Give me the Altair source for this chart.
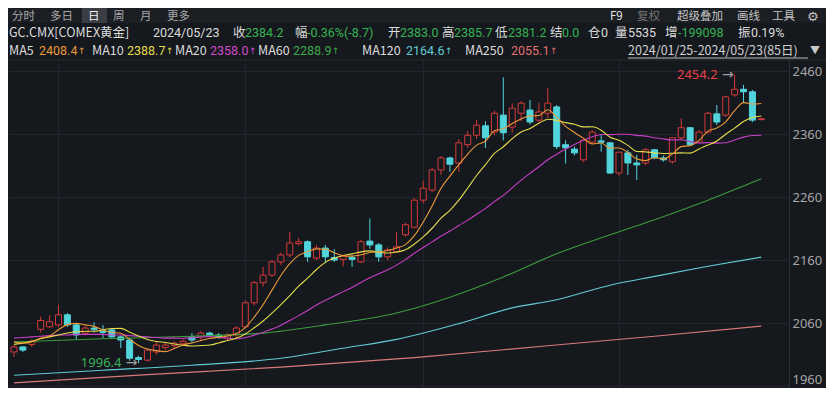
import altair as alt
import pandas as pd

# ---------------- data ----------------
opens = [2014, 2022, 2026, 2050, 2054, 2057, 2073, 2057, 2044, 2052,
         2047, 2049, 2038, 2033, 2005, 2001, 2014, 2021, 2024, 2027,
         2038, 2038, 2044, 2041, 2036, 2041, 2054, 2092, 2124, 2136,
         2157, 2168, 2186, 2189, 2163, 2179, 2164, 2161, 2164, 2157,
         2190, 2184, 2165, 2173, 2200, 2212, 2255, 2271, 2303, 2322,
         2314, 2343, 2358, 2373, 2363, 2390, 2371, 2393, 2398, 2382,
         2393, 2403, 2343, 2336, 2319, 2347, 2349, 2346, 2298, 2330,
         2314, 2314, 2335, 2322, 2316, 2354, 2370, 2347, 2363, 2392,
         2390, 2422, 2431, 2427, 2383.0]
highs = [2025, 2023, 2034, 2070, 2072, 2089, 2076, 2060, 2055, 2061,
         2057, 2052, 2040, 2036, 2008, 2019, 2030, 2028, 2031, 2034,
         2044, 2047, 2046, 2044, 2044, 2055, 2096, 2127, 2149, 2160,
         2172, 2205, 2195, 2191, 2184, 2184, 2177, 2168, 2167, 2192,
         2226, 2187, 2180, 2204, 2219, 2258, 2286, 2306, 2325, 2324,
         2352, 2365, 2382, 2380, 2397, 2450, 2409, 2412, 2414, 2409,
         2433, 2406, 2350, 2340, 2352, 2366, 2358, 2347, 2332, 2335,
         2327, 2338, 2336, 2326, 2354, 2385, 2371, 2366, 2395, 2406,
         2421, 2454.2, 2438, 2430, 2385.7]
lows = [2006, 2014, 2022, 2045, 2052, 2054, 2054, 2033, 2040, 2045,
        2036, 2035, 2020, 2000, 1996.4, 1999, 2010, 2017, 2020, 2024,
        2028, 2031, 2038, 2035, 2033, 2036, 2052, 2088, 2118, 2133,
        2152, 2164, 2183, 2157, 2160, 2155, 2157, 2150, 2149, 2155,
        2178, 2157, 2160, 2171, 2197, 2210, 2250, 2268, 2295, 2300,
        2300, 2338, 2352, 2338, 2358, 2350, 2362, 2380, 2375, 2378,
        2386, 2336, 2313, 2326, 2316, 2345, 2332, 2297, 2294, 2295,
        2287, 2310, 2320, 2316, 2313, 2350, 2342, 2345, 2361, 2374,
        2387, 2419, 2409, 2379, 2381.2]
closes = [2022, 2017, 2031, 2064, 2062, 2073, 2057, 2041, 2052, 2050,
          2045, 2038, 2033, 2004, 2002, 2017, 2025, 2025, 2028, 2031,
          2033, 2044, 2041, 2038, 2041, 2052, 2092, 2124, 2136, 2157,
          2168, 2187, 2189, 2165, 2179, 2165, 2160, 2166, 2161, 2189,
          2184, 2165, 2176, 2181, 2216, 2255, 2274, 2303, 2322, 2312,
          2346, 2358, 2374, 2354, 2393, 2362, 2401, 2409, 2379, 2395,
          2409, 2340, 2338, 2330, 2350, 2363, 2347, 2298, 2331, 2314,
          2311, 2335, 2322, 2319, 2354, 2370, 2343, 2363, 2393, 2379,
          2419, 2431, 2427, 2382, 2384.2]

ma5 = [2030, 2028, 2030, 2036, 2039.2, 2049.4, 2057.4, 2059.4, 2057.0, 2054.6,
       2049.0, 2045.2, 2043.6, 2034.0, 2024.4, 2018.8, 2016.2, 2014.6, 2019.4, 2025.2,
       2028.4, 2032.2, 2035.4, 2037.4, 2039.4, 2043.2, 2052.8, 2069.4, 2089.0, 2112.2,
       2135.4, 2154.4, 2167.4, 2173.2, 2177.6, 2177.0, 2171.6, 2167.0, 2166.2, 2168.2,
       2172.0, 2173.0, 2175.0, 2179.0, 2184.4, 2198.6, 2220.4, 2245.8, 2274.0, 2293.2,
       2311.4, 2328.2, 2342.4, 2348.8, 2365.0, 2368.2, 2376.8, 2383.8, 2388.8, 2389.2,
       2398.6, 2386.4, 2372.2, 2362.4, 2353.4, 2344.2, 2345.6, 2337.6, 2337.8, 2330.6,
       2320.2, 2317.8, 2322.6, 2320.2, 2328.2, 2340.0, 2341.6, 2349.8, 2364.6, 2369.6,
       2379.4, 2397.0, 2409.8, 2407.6, 2408.4]
ma10 = [2026, 2028, 2031, 2035, 2038, 2041, 2044, 2046, 2047, 2046.9,
        2049.2, 2051.3, 2051.5, 2045.5, 2039.5, 2033.9, 2030.7, 2029.1, 2026.7, 2024.8,
        2023.6, 2024.2, 2025.0, 2028.4, 2032.3, 2035.8, 2042.5, 2052.4, 2063.2, 2075.8,
        2089.3, 2103.6, 2118.4, 2131.1, 2144.9, 2156.2, 2163.0, 2167.2, 2169.7, 2172.9,
        2174.5, 2172.3, 2171.0, 2172.6, 2176.3, 2185.3, 2196.7, 2210.4, 2226.5, 2238.8,
        2255.0, 2274.3, 2294.1, 2311.4, 2329.1, 2339.8, 2352.5, 2363.1, 2368.8, 2377.1,
        2383.4, 2381.6, 2378.0, 2375.6, 2371.3, 2371.4, 2366.0, 2354.9, 2350.1, 2342.0,
        2332.2, 2331.7, 2330.1, 2329.0, 2329.4, 2330.1, 2329.7, 2336.2, 2342.4, 2348.9,
        2359.7, 2369.3, 2379.8, 2386.1, 2388.7]
ma20 = [2036, 2037, 2038, 2039, 2040, 2041, 2041, 2042, 2042, 2042,
        2042, 2041, 2041, 2040, 2039, 2038, 2037, 2036, 2036, 2035.9,
        2036.4, 2037.8, 2038.3, 2037.0, 2035.9, 2034.9, 2036.6, 2040.8, 2045.0, 2050.3,
        2056.5, 2063.9, 2071.7, 2079.8, 2088.6, 2096.0, 2102.8, 2109.8, 2116.5, 2124.4,
        2131.9, 2138.0, 2144.7, 2151.9, 2160.6, 2170.8, 2179.9, 2188.8, 2198.1, 2205.9,
        2214.8, 2223.3, 2232.6, 2242.0, 2252.7, 2262.6, 2274.6, 2286.8, 2297.7, 2308.0,
        2319.2, 2328.0, 2336.1, 2343.5, 2350.2, 2355.6, 2359.3, 2359.0, 2359.5, 2359.6,
        2357.8, 2356.7, 2354.1, 2352.3, 2350.4, 2350.8, 2347.9, 2345.6, 2346.3, 2345.5,
        2346.0, 2350.5, 2355.0, 2357.6, 2358.0]
ma60_idx = [0, 10, 20, 28, 35, 43, 49, 55, 61, 67, 72, 78, 84]
ma60 = [2030, 2035, 2039, 2044, 2057, 2076, 2101, 2133, 2170, 2200, 2224, 2255, 2288.9]
ma120_idx = [0, 10, 20, 30, 37, 43, 50, 56, 61, 67, 72, 78, 84]
ma120 = [1977, 1985, 1993, 2004, 2020, 2034, 2059, 2084, 2097, 2120, 2134, 2150, 2164.6]
ma250_idx = [0, 15, 30, 45, 60, 72, 84]
ma250 = [1965, 1978, 1990, 2005, 2024, 2039, 2055.1]

y_ticks = [1960, 2060, 2160, 2260, 2360, 2460]
month_start_idx = [5, 26, 46, 68]

# ---------------- styling ----------------
BG = "#15181d"
GRID = "#22262c"
RED = "#d43a3a"
CYAN = "#52d4dc"
CJK = "Noto Sans CJK SC"
NUM = "Roboto"
W, H = 781, 380

xs = alt.Scale(domain=[-0.111, 86.55], nice=False, zero=False)
ys = alt.Scale(domain=[1956.83, 2560.0], nice=False, zero=False)
xa = alt.Axis(values=month_start_idx, grid=True, gridColor=GRID, labels=False,
              ticks=False, domain=False, title=None)
ya = alt.Axis(orient="right", values=y_ticks, grid=True, gridColor=GRID, domain=True,
              domainColor="#2b2f36", ticks=False, labelColor="#a6a6a6", labelFontSize=13,
              labelFont="Noto Sans", labelPadding=3, labelFlush=4, title=None, format="d")


def X(f="i"):
    return alt.X(f"{f}:Q", scale=xs, axis=xa)


def Y(f):
    return alt.Y(f"{f}:Q", scale=ys, axis=ya)


n = len(closes)
df = pd.DataFrame({"i": list(range(n)), "open": opens, "high": highs,
                   "low": lows, "close": closes})
up = "datum.close >= datum.open"

wicks = alt.Chart(df).mark_rule(strokeWidth=1).encode(
    x=X(), y=Y("low"), y2="high:Q",
    color=alt.condition(up, alt.value(RED), alt.value(CYAN)))
bodies = alt.Chart(df).mark_bar(size=6, strokeWidth=1).encode(
    x=X(), y=Y("open"), y2="close:Q",
    fill=alt.condition(up, alt.value(BG), alt.value(CYAN)),
    stroke=alt.condition(up, alt.value(RED), alt.value(CYAN)))

ma_df = pd.concat([
    pd.DataFrame({"i": ma250_idx, "v": ma250, "s": "MA250"}),
    pd.DataFrame({"i": ma120_idx, "v": ma120, "s": "MA120"}),
    pd.DataFrame({"i": ma60_idx, "v": ma60, "s": "MA60"}),
    pd.DataFrame({"i": list(range(n)), "v": ma20, "s": "MA20"}),
    pd.DataFrame({"i": list(range(n)), "v": ma10, "s": "MA10"}),
    pd.DataFrame({"i": list(range(n)), "v": ma5, "s": "MA5"}),
], ignore_index=True)
ma_names = ["MA5", "MA10", "MA20", "MA60", "MA120", "MA250"]
ma_colors = ["#eb9a3a", "#e4dc4c", "#c63fc6", "#3c9c3c", "#62cbd6", "#d97a7a"]
lines = alt.Chart(ma_df).mark_line(strokeWidth=1.1, interpolate="monotone").encode(
    x=X(), y=Y("v"),
    color=alt.Color("s:N", scale=alt.Scale(domain=ma_names, range=ma_colors), legend=None),
    detail="s:N")

hi_i = max(range(n), key=lambda k: highs[k])
lo_i = min(range(n), key=lambda k: lows[k])
ann_hi = pd.DataFrame({"i": [hi_i], "p": [highs[hi_i]], "t": [f"{highs[hi_i]:.1f}"]})
ann_lo = pd.DataFrame({"i": [lo_i], "p": [lows[lo_i]], "t": [f"{lows[lo_i]:.1f}"]})


def annot(d, color):
    t = alt.Chart(d).mark_text(align="right", baseline="middle", dx=-17, font="Noto Sans",
                               fontSize=13, color=color).encode(x=X(), y=Y("p"), text="t:N")
    a = alt.Chart(d).mark_text(text="→", align="right", baseline="middle", dx=-1,
                               font="DejaVu Sans", fontSize=14, color="#a0a0a0").encode(
        x=X(), y=Y("p"))
    return [t, a]


# ---------------- header ----------------
def box(x1, x2, y1, y2, color):
    return alt.Chart(alt.Data(values=[{}])).mark_rect(color=color).encode(
        x=alt.value(x1), x2=alt.value(x2), y=alt.value(y1), y2=alt.value(y2))


def hline(x1, x2, y, color):
    return alt.Chart(alt.Data(values=[{}])).mark_rule(color=color, strokeWidth=1).encode(
        x=alt.value(x1), x2=alt.value(x2), y=alt.value(y))


def txt(s, x, y, color, size=12.5, font=CJK):
    # x, y in reference-page pixels; chart origin is 8px in
    return alt.Chart(alt.Data(values=[{"s": s}])).mark_text(
        align="left", baseline="middle", font=font, fontSize=size, color=color).encode(
        x=alt.value(x - 8), y=alt.value(y - 8), text="s:N")


WHITE = "#dcdcdc"
GREEN = "#36b454"
GRAY = "#a9a9a9"

header = [
    box(0, 818, 0, 51, BG),
    box(0, 818, 0, 15, "#1b1e23"),
    box(74, 99, 0, 15, "#3a3d44"),
    hline(0, 818, 52, "#262a30"),
    hline(620, 800, 50, "#bdbdbd"),
]
row1 = 16.5
for s, x, c in [("分时", 12, GRAY), ("多日", 50, GRAY), ("日", 88, "#f0f0f0"),
                ("周", 113, GRAY), ("月", 140, GRAY), ("更多", 167, GRAY),
                ("F9", 610, "#e6e6e6"), ("复权", 637, "#767676"), ("超级叠加", 677, "#c4c4c4"),
                ("画线", 737, "#c4c4c4"), ("工具", 772, "#c4c4c4")]:
    header.append(txt(s, x, row1, c, size=11.5))
header.append(txt("⚙", 807, row1, "#c4c4c4", size=13, font="DejaVu Sans"))

row2 = 33
for s, x, c, f in [("GC.CMX[COMEX黄金]", 9, WHITE, CJK), ("2024/05/23", 153, WHITE, NUM),
                   ("收", 233, WHITE, CJK), ("2384.2", 245, GREEN, NUM),
                   ("幅", 295, WHITE, CJK), ("-0.36%(-8.7)", 307, GREEN, NUM),
                   ("开", 388, WHITE, CJK), ("2383.0", 400, GREEN, NUM),
                   ("高", 442, WHITE, CJK), ("2385.7", 454, GREEN, NUM),
                   ("低", 495, WHITE, CJK), ("2381.2", 508, GREEN, NUM),
                   ("结", 550, WHITE, CJK), ("0.0", 562, GREEN, NUM),
                   ("仓", 588, WHITE, CJK), ("0", 601, WHITE, NUM),
                   ("量", 615, WHITE, CJK), ("5535", 628, WHITE, NUM),
                   ("增", 665, WHITE, CJK), ("-199098", 678, GREEN, NUM),
                   ("振", 738, WHITE, CJK), ("0.19%", 751, WHITE, NUM)]:
    header.append(txt(s, x, row2, c, font=f))

row3 = 51
for s, x, c in [("MA5", 9, WHITE), ("MA10", 92, WHITE), ("MA20", 175, WHITE),
                ("MA60", 258, WHITE), ("MA120", 362, WHITE), ("MA250", 465, WHITE)]:
    header.append(txt(s, x, row3, c))
for s, x, c in [("2408.4", 39, ma_colors[0]), ("2388.7", 127, ma_colors[1]),
                ("2358.0", 210, "#d04ad0"), ("2288.9", 293, "#3fa84a"),
                ("2164.6", 406, ma_colors[4]), ("2055.1", 511, "#e07070")]:
    header.append(txt(s, x, row3, c, font=NUM))
    header.append(txt("↑", x + 39, row3, c, size=9, font="DejaVu Sans"))
header.append(txt("2024/01/25-2024/05/23(85日)", 628, row3, "#d0d0d0"))
header.append(txt("▼", 810, row3, "#c8c8c8", size=10, font=CJK))

layers = [wicks, bodies, lines] + annot(ann_hi, "#e8404a") + annot(ann_lo, "#3ab55a") + header

chart = alt.layer(*layers).properties(
    width=W, height=H, background=BG,
    autosize=alt.AutoSizeParams(type="none"),
    padding={"left": 0, "right": 37, "top": 0, "bottom": 0},
).configure_view(stroke=None)

chart.save("out.html", embed_options={"renderer": "svg", "actions": False})
